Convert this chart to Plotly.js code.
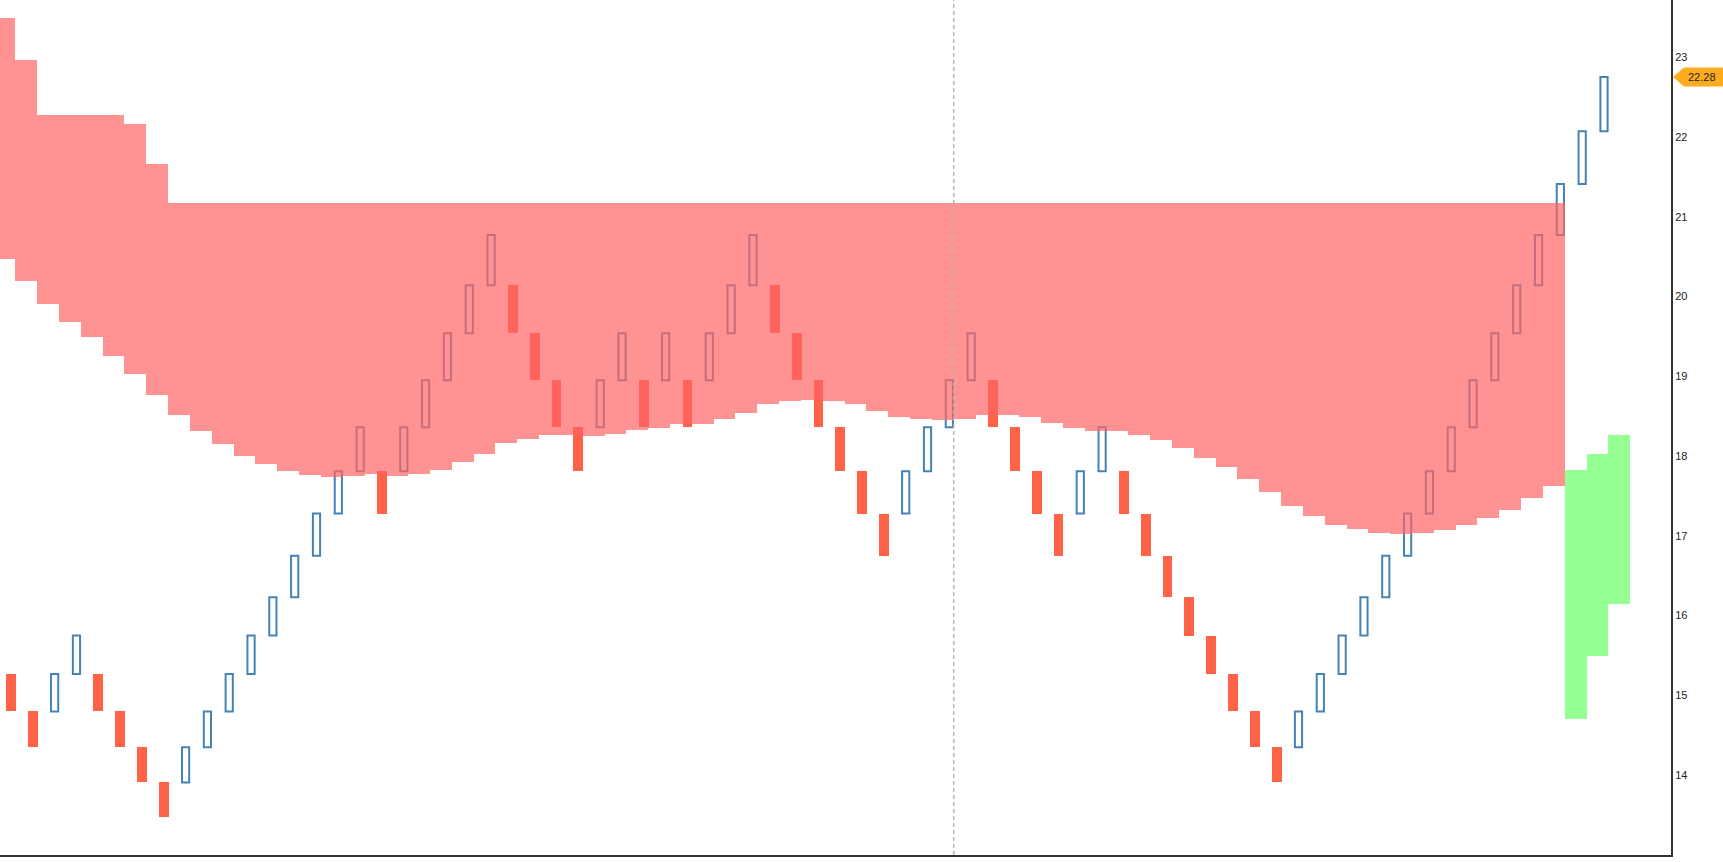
<!DOCTYPE html>
<html>
<head>
<meta charset="utf-8">
<script src="https://cdn.plot.ly/plotly-3.0.1.min.js"></script>
<style>
html,body{margin:0;padding:0;background:#ffffff;}
#chart{width:1723px;height:862px;}
</style>
</head>
<body>
<div id="chart"></div>
<script>
// Renko bricks (3% boxes): open and close of each brick, in order
const brickOpen = [
  15.27, 14.80, 14.80, 15.27, 15.27, 14.80, 14.35, 13.91, 13.91, 14.35,
  14.80, 15.27, 15.75, 16.23, 16.75, 17.28, 17.81, 17.81, 17.81, 18.36,
  18.95, 19.54, 20.14, 20.14, 19.54, 18.95, 18.36, 18.36, 18.95, 18.95,
  18.95, 18.95, 18.95, 19.54, 20.14, 20.14, 19.54, 18.95, 18.36, 17.81,
  17.28, 17.28, 17.81, 18.36, 18.95, 18.95, 18.36, 17.81, 17.28, 17.28,
  17.81, 17.81, 17.28, 16.75, 16.23, 15.75, 15.27, 14.80, 14.35, 14.35,
  14.80, 15.27, 15.75, 16.23, 16.75, 17.28, 17.81, 18.36, 18.95, 19.54,
  20.14, 20.77, 21.41, 22.07
];
const brickClose = [
  14.80, 14.35, 15.27, 15.75, 14.80, 14.35, 13.91, 13.48, 14.35, 14.80,
  15.27, 15.75, 16.23, 16.75, 17.28, 17.81, 18.36, 17.28, 18.36, 18.95,
  19.54, 20.14, 20.77, 19.54, 18.95, 18.36, 17.81, 18.95, 19.54, 18.36,
  19.54, 18.36, 19.54, 20.14, 20.77, 19.54, 18.95, 18.36, 17.81, 17.28,
  16.75, 17.81, 18.36, 18.95, 19.54, 18.36, 17.81, 17.28, 16.75, 17.81,
  18.36, 17.28, 16.75, 16.23, 15.75, 15.27, 14.80, 14.35, 13.91, 14.80,
  15.27, 15.75, 16.23, 16.75, 17.28, 17.81, 18.36, 18.95, 19.54, 20.14,
  20.77, 21.41, 22.07, 22.75
];

// Cloud spans, one value per step (75 steps, the last 3 past the pink area)
const spanA = [
  20.47, 20.19, 19.90, 19.68, 19.49, 19.26, 19.03, 18.77, 18.51, 18.31,
  18.15, 18.00, 17.90, 17.81, 17.76, 17.74, 17.75, 17.77, 17.75, 17.78,
  17.83, 17.92, 18.02, 18.16, 18.22, 18.26, 18.27, 18.25, 18.28, 18.33,
  18.35, 18.40, 18.40, 18.46, 18.54, 18.65, 18.69, 18.70, 18.69, 18.65,
  18.57, 18.49, 18.46, 18.45, 18.47, 18.52, 18.52, 18.49, 18.42, 18.35,
  18.32, 18.32, 18.27, 18.20, 18.10, 17.98, 17.86, 17.71, 17.55, 17.37,
  17.25, 17.14, 17.08, 17.03, 17.02, 17.03, 17.07, 17.13, 17.22, 17.33,
  17.47, 17.63, 17.82, 18.02, 18.26
];
const spanB = [
  23.49, 22.96, 22.27, 22.27, 22.27, 22.27, 22.16, 21.66, 21.17, 21.17,
  21.17, 21.17, 21.17, 21.17, 21.17, 21.17, 21.17, 21.17, 21.17, 21.17,
  21.17, 21.17, 21.17, 21.17, 21.17, 21.17, 21.17, 21.17, 21.17, 21.17,
  21.17, 21.17, 21.17, 21.17, 21.17, 21.17, 21.17, 21.17, 21.17, 21.17,
  21.17, 21.17, 21.17, 21.17, 21.17, 21.17, 21.17, 21.17, 21.17, 21.17,
  21.17, 21.17, 21.17, 21.17, 21.17, 21.17, 21.17, 21.17, 21.17, 21.17,
  21.17, 21.17, 21.17, 21.17, 21.17, 21.17, 21.17, 21.17, 21.17, 21.17,
  21.17, 21.17, 14.71, 15.49, 16.14
];

const yTicks = [14, 15, 16, 17, 18, 19, 20, 21, 22, 23];
const lastPriceText = '22.28';
const cursorBrick = 43.2;

const idx = brickOpen.map((_, i) => i);
const up = idx.filter(i => brickClose[i] > brickOpen[i]);
const dn = idx.filter(i => brickClose[i] < brickOpen[i]);

const cloudIdx = spanA.map((_, k) => k);
const pinkK = cloudIdx.filter(k => spanB[k] >= spanA[k]);
const greenK = cloudIdx.filter(k => spanB[k] < spanA[k]);
const cloudShift = -0.3;

const traces = [
  {
    type: 'bar', x: dn,
    base: dn.map(i => brickClose[i]),
    y: dn.map(i => brickOpen[i] - brickClose[i]),
    width: 0.45,
    marker: {color: '#ff6347', line: {width: 0}},
    hoverinfo: 'skip'
  },
  {
    type: 'bar', x: up,
    base: up.map(i => brickOpen[i]),
    y: up.map(i => brickClose[i] - brickOpen[i]),
    width: 0.33,
    marker: {color: 'rgba(0,0,0,0)', line: {color: '#4682b4', width: 2}},
    hoverinfo: 'skip'
  },
  {
    type: 'bar', x: pinkK.map(k => k + cloudShift),
    base: pinkK.map(k => spanA[k]),
    y: pinkK.map(k => spanB[k] - spanA[k]),
    width: 1,
    marker: {color: 'rgba(255,100,100,0.70)', line: {width: 0}},
    hoverinfo: 'skip'
  },
  {
    type: 'bar', x: greenK.map(k => k + cloudShift),
    base: greenK.map(k => spanB[k]),
    y: greenK.map(k => spanA[k] - spanB[k]),
    width: 1,
    marker: {color: 'rgb(150,255,145)', line: {width: 0}},
    hoverinfo: 'skip'
  }
];

const yMin = 13.0, yMax = 23.716;
const W = 1671, H = 855;
const lastClose = brickClose[brickClose.length - 1];
const yp = (lastClose - yMin) / (yMax - yMin);
const hh = 9.5 / H;
const px = v => v / W;

const layout = {
  width: 1723, height: 862,
  margin: {l: 0, r: 52, t: 0, b: 7, pad: 0},
  paper_bgcolor: '#ffffff', plot_bgcolor: '#ffffff',
  showlegend: false,
  barmode: 'overlay', bargap: 0, bargroupgap: 0,
  xaxis: {
    range: [-0.504, 76.07], showgrid: false, zeroline: false,
    showticklabels: false, ticks: '', showline: true,
    linecolor: '#333333', linewidth: 2
  },
  yaxis: {
    side: 'right', range: [yMin, yMax], tickvals: yTicks,
    ticktext: yTicks.map(String),
    showgrid: false, zeroline: false, showline: true,
    linecolor: '#333333', linewidth: 2, ticks: '',
    tickfont: {family: 'Liberation Sans, Arial, sans-serif', size: 11, color: '#222222'}
  },
  shapes: [
    {
      type: 'line', xref: 'x', yref: 'paper',
      x0: cursorBrick, x1: cursorBrick, y0: 0, y1: 1,
      line: {color: '#b4b4b4', width: 1.5, dash: '4px,3px'}, layer: 'above'
    },
    {
      type: 'path', xref: 'paper', yref: 'paper',
      path: 'M ' + px(1673) + ',' + yp +
            ' L ' + px(1684) + ',' + (yp - hh) +
            ' L ' + px(1723) + ',' + (yp - hh) +
            ' L ' + px(1723) + ',' + (yp + hh) +
            ' L ' + px(1684) + ',' + (yp + hh) + ' Z',
      fillcolor: '#ffab1f', line: {width: 0}, layer: 'above'
    }
  ],
  annotations: [
    {
      xref: 'paper', yref: 'y', x: px(1702), y: lastClose,
      text: lastPriceText, showarrow: false, xanchor: 'center', yanchor: 'middle',
      font: {family: 'Liberation Sans, Arial, sans-serif', size: 11, color: '#222222'}
    }
  ]
};

Plotly.newPlot('chart', traces, layout, {displayModeBar: false, staticPlot: true});
</script>
</body>
</html>
